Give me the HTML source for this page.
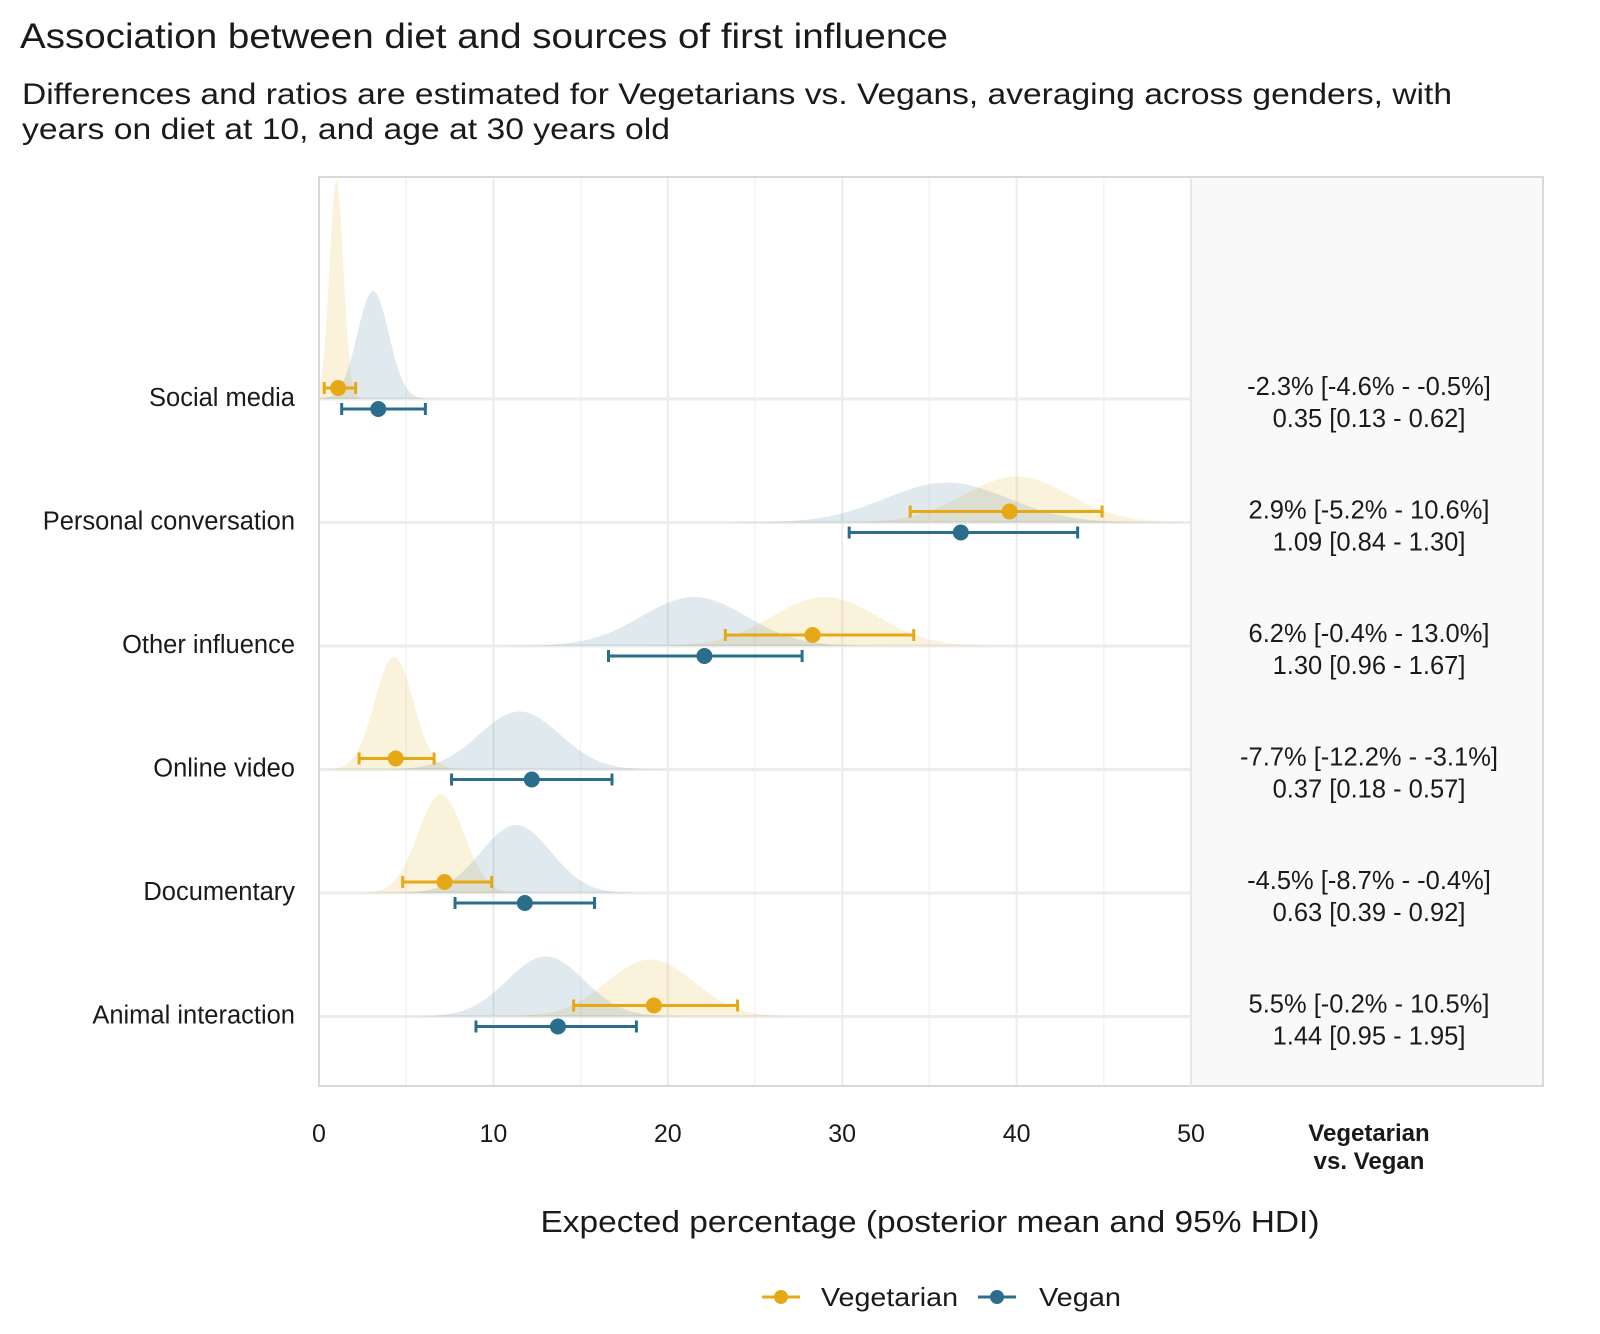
<!DOCTYPE html>
<html><head><meta charset="utf-8"><style>
body{margin:0;background:#fff;}
svg{display:block;font-family:"Liberation Sans",sans-serif;}
</style></head><body>
<svg id="chart" width="1600" height="1334" viewBox="0 0 1600 1334">
<text x="20" y="48" font-size="35" fill="#1a1a1a" textLength="928" lengthAdjust="spacingAndGlyphs">Association between diet and sources of first influence</text>
<text x="22" y="104" font-size="30" fill="#1a1a1a" textLength="1430" lengthAdjust="spacingAndGlyphs">Differences and ratios are estimated for Vegetarians vs. Vegans, averaging across genders, with</text>
<text x="22" y="139" font-size="30" fill="#1a1a1a" textLength="648" lengthAdjust="spacingAndGlyphs">years on diet at 10, and age at 30 years old</text>
<rect x="1191" y="177" width="352" height="909" fill="#f9f9f9"/>
<g id="grid"></g>
<g id="marks"></g>
<rect x="319" y="177" width="1224" height="909" fill="none" stroke="#d9d9d9" stroke-width="2"/>
<line x1="1191" y1="177" x2="1191" y2="1086" stroke="#e6e6e6" stroke-width="1.5"/>
<g id="labels" font-size="25.5" fill="#1a1a1a"></g>
<text x="1369" y="1141" font-size="24" font-weight="bold" text-anchor="middle" fill="#1a1a1a">Vegetarian</text>
<text x="1369" y="1169" font-size="24" font-weight="bold" text-anchor="middle" fill="#1a1a1a">vs. Vegan</text>
<text x="930" y="1232" font-size="31" text-anchor="middle" fill="#1a1a1a" textLength="779" lengthAdjust="spacingAndGlyphs">Expected percentage (posterior mean and 95% HDI)</text>
<g>
<g>
<line x1="762" y1="1297" x2="800" y2="1297" stroke="#E6A817" stroke-width="3"/>
<circle cx="781" cy="1297" r="7" fill="#E6A817"/>
<text x="821" y="1306" font-size="26" fill="#1a1a1a" textLength="137" lengthAdjust="spacingAndGlyphs">Vegetarian</text></g>
<g>
<line x1="978" y1="1297" x2="1016" y2="1297" stroke="#2B6E8C" stroke-width="3"/>
<circle cx="997" cy="1297" r="7" fill="#2B6E8C"/>
<text x="1039" y="1306" font-size="26" fill="#1a1a1a" textLength="82" lengthAdjust="spacingAndGlyphs">Vegan</text></g>
</g>
</svg>
<script>
const categories=["Social media","Personal conversation","Other influence","Online video","Documentary","Animal interaction"];
const vegMean=[1.1,39.6,28.3,4.4,7.2,19.2];
const vegLow=[0.3,33.9,23.3,2.3,4.8,14.6];
const vegHigh=[2.1,44.9,34.1,6.6,9.9,24.0];
const veganMean=[3.4,36.8,22.1,12.2,11.8,13.7];
const veganLow=[1.3,30.4,16.6,7.6,7.8,9.0];
const veganHigh=[6.1,43.5,27.7,16.8,15.8,18.2];
const vegPeak=[1.0,40,29,4.3,7.0,19];
const vegSd=[0.4,3.0,3.0,1.1,1.3,2.5];
const vegDens=[218,46,49,113,99,57];
const veganPeak=[3.1,36,21.5,11.5,11.3,13];
const veganSd=[0.9,3.5,3.0,2.3,2.0,2.2];
const veganDens=[108,40,49,58,68,60];
const diffText=["-2.3% [-4.6% - -0.5%]","2.9% [-5.2% - 10.6%]","6.2% [-0.4% - 13.0%]","-7.7% [-12.2% - -3.1%]","-4.5% [-8.7% - -0.4%]","5.5% [-0.2% - 10.5%]"];
const ratioText=["0.35 [0.13 - 0.62]","1.09 [0.84 - 1.30]","1.30 [0.96 - 1.67]","0.37 [0.18 - 0.57]","0.63 [0.39 - 0.92]","1.44 [0.95 - 1.95]"];
const xTicks=[0,10,20,30,40,50];
const NS="http://www.w3.org/2000/svg";
const x=v=>319+v*17.44;
const y=i=>399+i*123.5;
function mk(tag,attrs,parent){const e=document.createElementNS(NS,tag);for(const k in attrs)e.setAttribute(k,attrs[k]);parent.appendChild(e);return e;}
const grid=document.getElementById('grid'),marks=document.getElementById('marks'),labels=document.getElementById('labels');
for(let v=5;v<50;v+=10){const l=mk('line',{x1:x(v),x2:x(v),y1:177,y2:1086,stroke:'#f3f3f3','stroke-width':1.5},grid);

}
xTicks.forEach(v=>{const l=mk('line',{x1:x(v),x2:x(v),y1:177,y2:1086,stroke:'#ebebeb','stroke-width':2},grid);


const t=mk('text',{x:x(v),y:1142,'text-anchor':'middle','font-size':25},labels);t.textContent=v;

});
categories.forEach((c,i)=>{const l=mk('line',{x1:319,x2:1191,y1:y(i),y2:y(i),stroke:'#ececec','stroke-width':3},grid);

});
function dens(pk,sd,h,base,col,name){let d='M'+x(Math.max(0,pk-4*sd))+','+base;
for(let k=0;k<=80;k++){const v=pk-4*sd+k*8*sd/80;if(v<0||v>50)continue;const z=(v-pk)/sd;d+=' L'+x(v).toFixed(1)+','+(base-h*Math.exp(-z*z/2)).toFixed(1);}
d+=' L'+x(Math.min(50,pk+4*sd))+','+base+' Z';
const p=mk('path',{d:d,fill:col,'fill-opacity':0.15},marks);

}
function ci(m,lo,hi,yy,col,name){const g=mk('g',{},marks);


mk('line',{x1:x(lo),x2:x(hi),y1:yy,y2:yy,stroke:col,'stroke-width':3},g);
mk('line',{x1:x(lo),x2:x(lo),y1:yy-6,y2:yy+6,stroke:col,'stroke-width':3},g);
mk('line',{x1:x(hi),x2:x(hi),y1:yy-6,y2:yy+6,stroke:col,'stroke-width':3},g);
mk('circle',{cx:x(m),cy:yy,r:8,fill:col},g);}
categories.forEach((c,i)=>{const b=y(i);
dens(vegPeak[i],vegSd[i],vegDens[i],b,'#E6A817','density-vegetarian-'+i);
dens(veganPeak[i],veganSd[i],veganDens[i],b,'#2B6E8C','density-vegan-'+i);
ci(vegMean[i],vegLow[i],vegHigh[i],b-11,'#E6A817','interval-vegetarian-'+i);
ci(veganMean[i],veganLow[i],veganHigh[i],b+10,'#2B6E8C','interval-vegan-'+i);
const t=mk('text',{x:295,y:b+7,'text-anchor':'end'},labels);t.textContent=c;


const a=mk('text',{x:1369,y:b-4,'text-anchor':'middle'},labels);a.textContent=diffText[i];


const r=mk('text',{x:1369,y:b+28,'text-anchor':'middle'},labels);r.textContent=ratioText[i];

});
</script>
</body></html>
